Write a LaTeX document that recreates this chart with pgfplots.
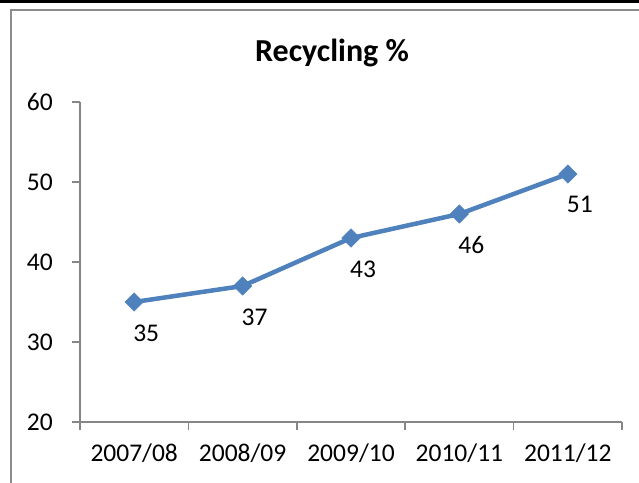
\documentclass[border=0pt]{standalone}
\usepackage{pgfplots}
\pgfplotsset{compat=1.18}
\usepackage{fontspec}
\setmainfont{Carlito}
\definecolor{xlblue}{RGB}{79,129,189}
\definecolor{axgray}{RGB}{134,134,134}
\definecolor{framegray}{RGB}{140,140,140}
\begin{document}
\begin{tikzpicture}[x=1pt,y=1pt]
\useasboundingbox (0,0) rectangle (639,482);
\fill[white] (0,0) rectangle (639,482);
\fill[black] (0,479) rectangle (639,482);
\draw[framegray, line width=2pt] (11,-20) |- (660,472);
\node[anchor=base, font={\fontsize{32}{38}\selectfont\bfseries}] at (332,420) {Recycling \%};
\begin{axis}[
  at={(80pt,60pt)}, anchor=south west,
  scale only axis, width=542pt, height=320pt,
  xmin=-0.5, xmax=4.5, ymin=20, ymax=60,
  axis x line*=bottom, axis y line*=left,
  axis line style={axgray, line width=1.5pt, -},
  xtick={-0.5,0.5,1.5,2.5,3.5,4.5},
  x tick label as interval,
  xticklabels={2007/08,2008/09,2009/10,2010/11,2011/12},
  ytick={20,30,40,50,60},
  tick align=outside,
  major tick length=8pt,
  tick style={axgray, line width=1.5pt},
  /pgf/number format/assume math mode=true,
  ticklabel style={font={\fontsize{25.5}{30}\selectfont}, text=black},
  yticklabel style={inner sep=0pt, xshift=-19pt},
  xticklabel style={inner sep=0pt, anchor=north, yshift=-14pt},
  clip=false,
  nodes near coords,
  every node near coord/.append style={anchor=north, xshift=12pt, yshift=-19pt, font={\fontsize{25.5}{30}\selectfont}, text=black},
]
\addplot[xlblue, line width=4.5pt, mark=square*, mark size=6.5pt, mark options={rotate=45, fill=xlblue, draw=xlblue, line width=0.5pt}] coordinates {
  (0,35) (1,37) (2,43) (3,46) (4,51)
};
\end{axis}
\end{tikzpicture}
\end{document}
